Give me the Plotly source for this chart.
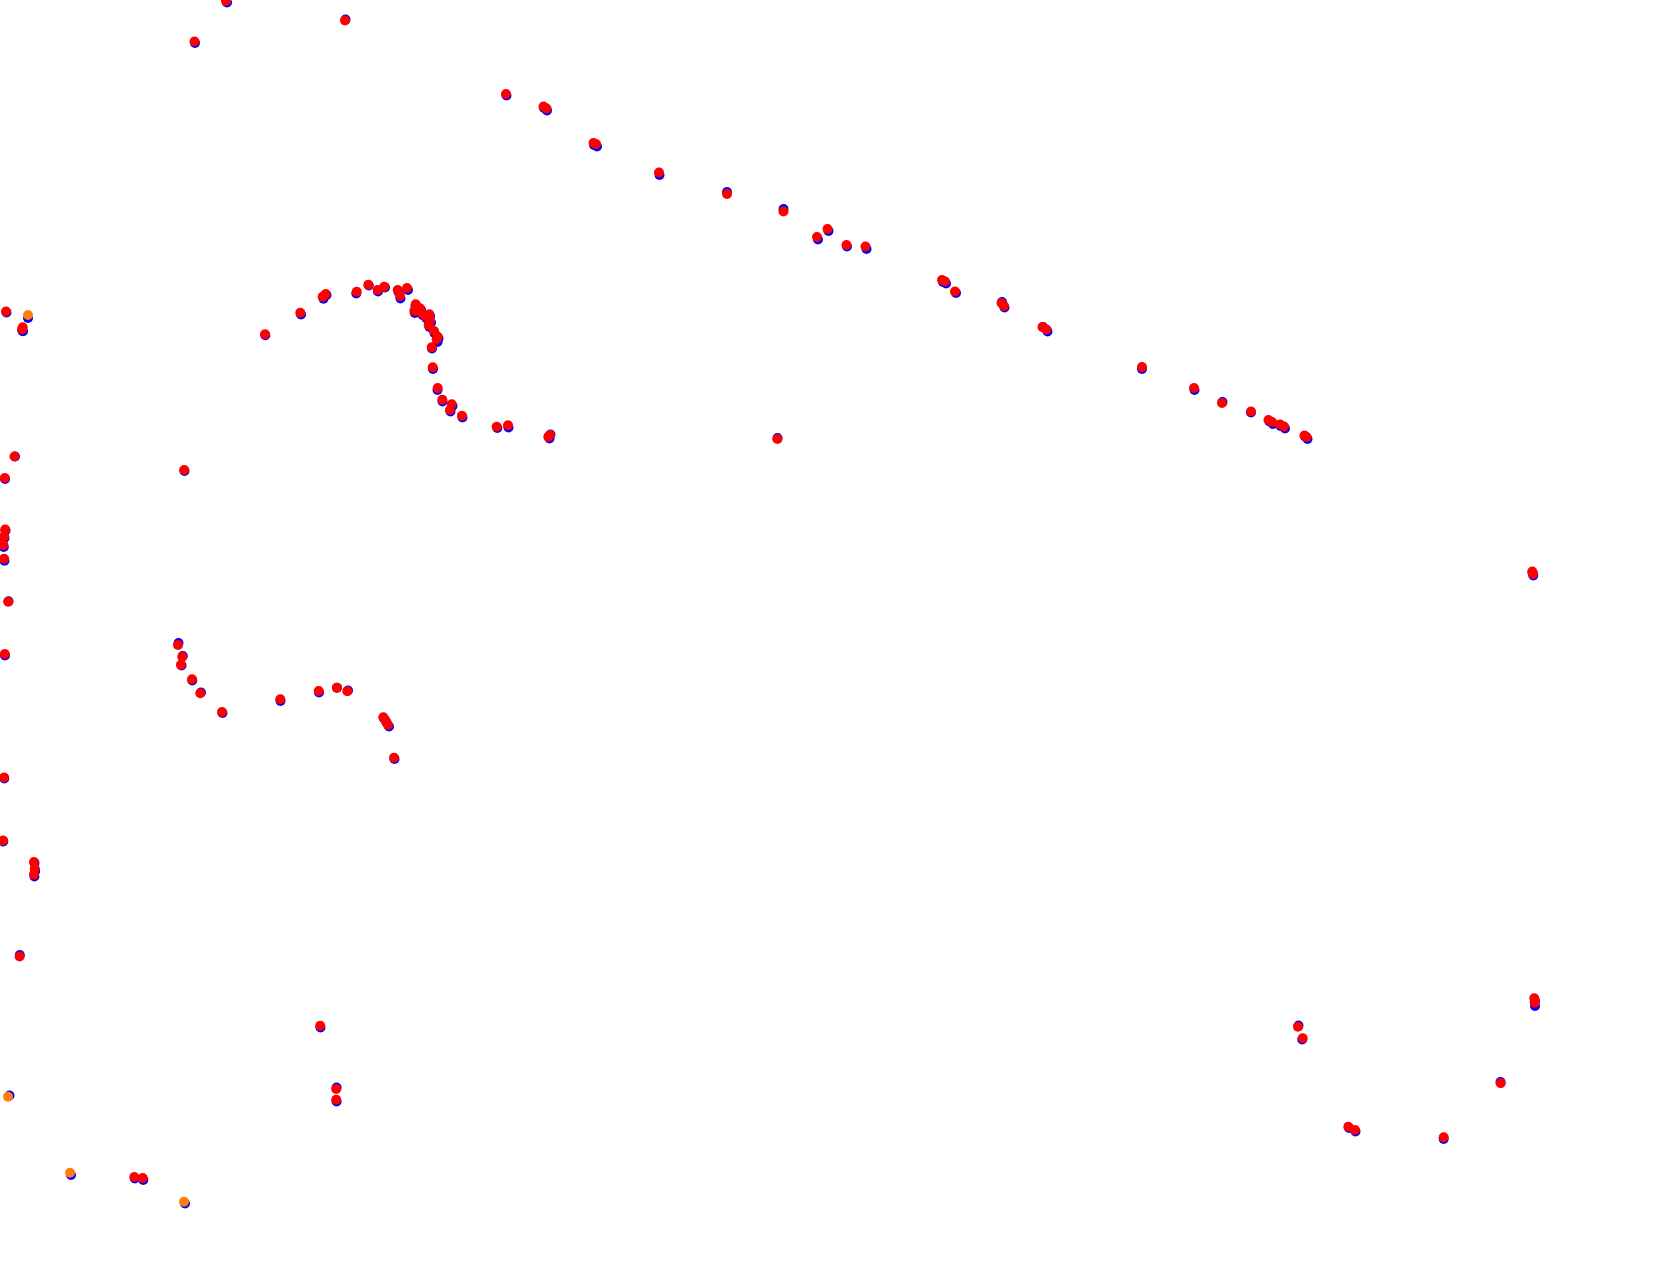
import plotly.graph_objects as go

# positions are in picture pixels (x to the right, y downwards)
red_x = [226, 345, 194.5,
         506, 543.5, 546.5, 593.5, 596, 659, 727, 783.5, 817, 827.5, 846.5, 865.5,
         942, 945, 955, 1001.5, 1004, 1042.5, 1046.5, 1142, 1194, 1222, 1251,
         1268.5, 1272, 1280, 1284, 1304.5, 1306.5,
         6, 22.7, 22,
         14.5, 4.8, 5.2, 4.1, 3.4, 4.1, 8.3, 4.8, 4.1, 3.1, 34, 34.8, 34, 19.6,
         265, 300.3, 322.7, 325.7, 356.7, 368.3, 377.7, 384.3, 397.7, 400, 407,
         415.7, 414.3, 420, 421.7, 426, 429.3, 430, 428.7, 434, 437.7, 436.7,
         431.7, 432.7, 437.7, 442.3, 451.7, 450, 462, 496.7, 508, 548.3, 550,
         184.2, 777.4,
         178, 182.3, 181, 192, 200.3, 222, 280.3, 318.7, 337, 347.3, 383.3, 385.7, 388, 394,
         1532.3, 1533,
         320.2, 336.2, 336.2, 134.3, 142.7,
         1298, 1302.7, 1534.3, 1534.7, 1500.7, 1348.3, 1355, 1443.7]
red_y = [1, 20.5, 41.5,
         94, 106.5, 108.5, 143, 144, 172.5, 194, 211.5, 237, 229, 245, 246.5,
         280, 281.5, 291.5, 303, 306, 327, 329.5, 367, 388, 403, 411.5,
         420, 422, 424.5, 426.5, 435.5, 437,
         311.5, 327.3, 329.5,
         456.5, 478, 529.5, 536.4, 545, 558.8, 601.8, 654, 777.5, 840.5, 862, 868.7, 874.6, 956.5,
         334.3, 312.7, 296.7, 294, 291.7, 284.7, 290, 286.7, 290, 296, 288,
         304.3, 311, 308.3, 313.3, 316.7, 314.3, 320.7, 325, 331, 336.7, 339.3,
         347.3, 367.3, 388, 399.7, 404.3, 410, 415.7, 426.7, 425.3, 436.7, 435,
         470, 439,
         645, 656.7, 664.7, 679.3, 693.3, 712, 699.3, 691, 687.7, 691.3, 717.3, 720.7, 725, 757.7,
         571.5, 574,
         1025.8, 1089, 1099.7, 1177, 1178,
         1026.7, 1038.3, 998.3, 1002.7, 1083.3, 1126.7, 1130, 1137.3]

blue_x = [227, 345.5, 195,
          506.5, 544, 547, 594, 597, 659.5, 727, 783.5, 818, 828.5, 847, 866.5,
          943, 946, 956, 1002, 1004.5, 1043, 1047.5, 1142, 1194.5, 1222.5, 1251,
          1269.5, 1273, 1280.5, 1285, 1305, 1307.5,
          6.5, 23, 22.5,
          15, 5, 5.5, 4.5, 3.8, 4.5, 8.5, 5, 4.3, 3.3, 34.5, 35.2, 34.4, 19.8,
          265.3, 301, 323.5, 326.5, 356.3, 368.8, 378, 385, 398.5, 400.5, 408,
          415.5, 414.8, 421, 422.5, 426.5, 430, 431, 429.5, 434.5, 438.5, 437.5,
          432, 433, 437.5, 442.5, 452.5, 450.5, 462.5, 497.3, 508.5, 549.5, 550.5,
          184.5, 777.5,
          178.5, 182.8, 181.5, 192.3, 201, 222.5, 280.5, 319, 337, 348, 384, 386.5, 389, 394.5,
          1532.5, 1533.3,
          320.5, 336.6, 336.6, 134.8, 143.3,
          1298.5, 1302.2, 1535, 1535, 1500.5, 1349, 1355.5, 1443.7,
          28, 9.5, 71, 185]
blue_y = [2.5, 19.5, 43,
          95.5, 108, 110.5, 145, 146.5, 175, 192, 209, 239.5, 231, 246.5, 249,
          282, 283.5, 293, 302, 307.5, 327, 331.5, 369, 390, 402, 412.5,
          421.5, 424, 426, 428.5, 436.5, 439,
          312.5, 331.3, 331,
          456.5, 479, 530.5, 538, 547, 560.8, 601.3, 655.5, 778.5, 841.5, 863, 871, 876.5, 955,
          335.3, 314.5, 298.7, 295, 293.5, 285.5, 291.5, 287.5, 292, 298.5, 290,
          306, 313, 310, 315, 318.5, 316, 322.5, 327, 333, 338.5, 342,
          348.5, 369, 390, 401.5, 406, 411.5, 417.5, 428, 427.5, 438.5, 434.5,
          471, 438,
          643, 656, 665.5, 680.5, 692.5, 713, 701, 692.5, 687.7, 690.5, 718.5, 722.5, 726.5, 759,
          572.5, 575.5,
          1027.5, 1087.5, 1101.5, 1178.5, 1180,
          1025.5, 1039.5, 1001, 1006, 1082, 1128, 1131.5, 1139,
          318, 1095.5, 1175, 1203.5]

orange_x = [28, 8, 70, 184]
orange_y = [315, 1096.7, 1172.7, 1201.7]

fig = go.Figure()

for xs, ys, color in [(blue_x, blue_y, "#0000ff"),
                      (red_x, red_y, "#ff0000"),
                      (orange_x, orange_y, "#ff7f0e")]:
    fig.add_trace(go.Scatter(
        x=xs, y=ys, mode="markers",
        marker=dict(size=10, color=color, line=dict(width=0)),
        showlegend=False, hoverinfo="skip"
    ))

fig.update_layout(
    width=1679, height=1263,
    margin=dict(l=0, r=0, t=0, b=0),
    paper_bgcolor="white", plot_bgcolor="white",
    xaxis=dict(range=[0, 1679], visible=False),
    yaxis=dict(range=[1263, 0], visible=False),
)

# drop the default 8px page margin so the plot sits at the window corner
fig.write_html(
    "out.html",
    config={"displayModeBar": False},
    post_script="document.body.style.margin='0';",
)
